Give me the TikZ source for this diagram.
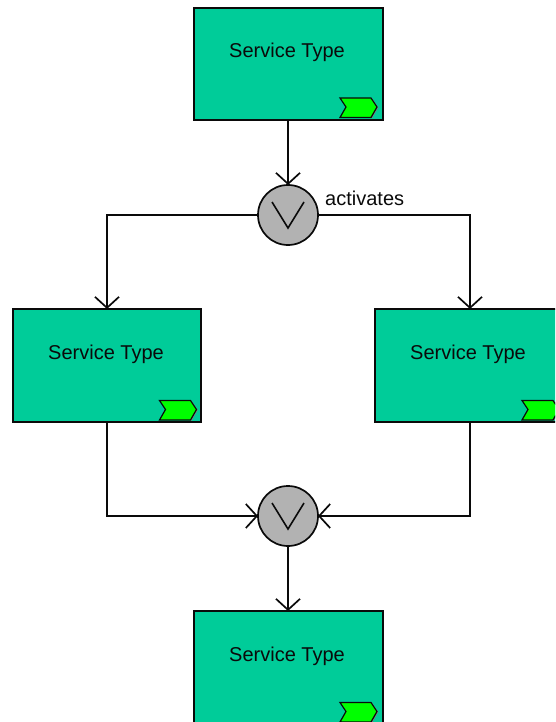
\documentclass[tikz,border=0pt]{standalone}
\usepackage{fontspec}
\setmainfont{Liberation Sans}
\usetikzlibrary{arrows.meta}
\definecolor{svc}{RGB}{0,204,153}
\definecolor{chev}{RGB}{0,255,0}
\definecolor{gatefill}{RGB}{178,178,178}
\definecolor{ink}{RGB}{10,10,10}
\tikzset{
  x=1pt,y=-1pt,
  svcbox/.style={draw=ink,fill=svc,line width=1.9pt,minimum width=189pt,minimum height=112pt,inner sep=0pt,outer sep=0pt},
  gate/.style={circle,draw=ink,fill=gatefill,line width=1.7pt,minimum size=60pt,inner sep=0pt,outer sep=0pt},
  lbl/.style={font=\fontsize{20}{24}\selectfont,text=ink,inner sep=0pt},
  conn/.style={draw=ink,line width=1.9pt,-{Straight Barb[length=11pt,width=24pt,line width=1.7pt]}},
  plainv/.style={draw=ink,line width=1.6pt},
  chevshape/.style={draw=ink,fill=chev,line width=1.2pt,line join=miter},
  chevshadow/.style={draw=gray,line width=1.2pt}
}
\newcommand{\chevron}[2]{%
  \draw[chevshadow] (#1+31.5,#2+0.5) -- (#1+37.5,#2+9.5) -- (#1+31.5,#2+20);
  \draw[chevshape] (#1,#2) -- (#1+31,#2) -- (#1+37,#2+9) -- (#1+31,#2+19.5) -- (#1,#2+19.5) -- (#1+6,#2+9) -- cycle;
}
\newcommand{\vmark}[1]{%
  \draw[plainv] ([shift={(-16,-13)}]#1.center) -- ([shift={(0,13)}]#1.center) -- ([shift={(16,-13)}]#1.center);
}
\begin{document}
\begin{tikzpicture}
\useasboundingbox (0,0) rectangle (555,722);
\clip (0,0) rectangle (555,722);
\node[svcbox] (top) at (288.5,64) {};
\node[svcbox,minimum height=113pt,minimum width=188pt] (left) at (107,365.5) {};
\node[svcbox,minimum height=113pt,minimum width=190pt] (right) at (470,365.5) {};
\node[svcbox] (bottom) at (288.5,667) {};
\node[gate] (g1) at (288,215) {};
\node[gate] (g2) at (288,516) {};
\node[lbl] (t1) at (287,52) {Service Type};
\node[lbl] (t2) at (106,354) {Service Type};
\node[lbl] (t3) at (468,354) {Service Type};
\node[lbl] (t4) at (287,656) {Service Type};
\node[lbl,anchor=west] (act) at (325,198) {activates};
\chevron{340}{98}
\chevron{159.5}{400.5}
\chevron{522}{400.5}
\chevron{340}{702.5}
\vmark{g1}
\vmark{g2}
\draw[conn] (top.south -| g1.north) -- (g1.north);
\draw[conn] (g1.west) -| (left.north);
\draw[conn] (g1.east) -| (right.north);
\draw[conn] (left.south) |- (g2.west);
\draw[conn] (right.south) |- (g2.east);
\draw[conn] (g2.south) -- (bottom.north -| g2.south);
\end{tikzpicture}
\end{document}
